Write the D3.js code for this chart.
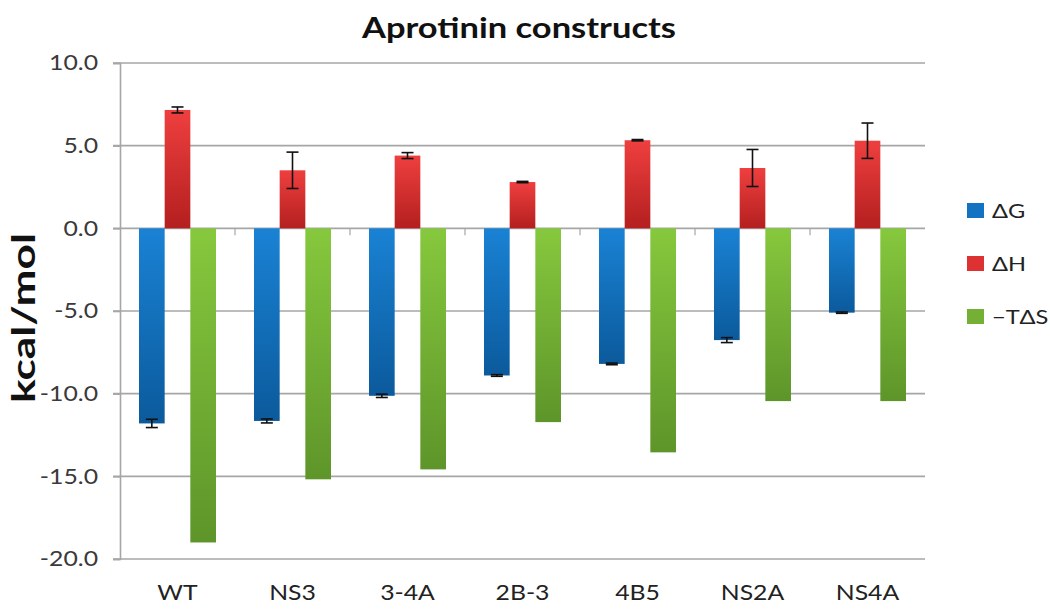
<!DOCTYPE html>
<html><head><meta charset="utf-8">
<script src="https://cdn.jsdelivr.net/npm/d3@7"></script>
<style>body{margin:0;background:#fff}svg{display:block}</style>
</head><body><svg id="c" width="1050" height="611"></svg>
<script>
const categories = ["WT","NS3","3-4A","2B-3","4B5","NS2A","NS4A"];
const seriesNames = ["ΔG","ΔH","−TΔS"];
const dG   = [-11.8,-11.65,-10.13,-8.9,-8.2,-6.76,-5.1];
const dGerr= [0.25,0.12,0.1,0.05,0.05,0.15,0.04];
const dH   = [7.16,3.51,4.4,2.8,5.33,3.65,5.3];
const dHerr= [0.18,1.1,0.18,0.04,0.04,1.12,1.07];
const mTdS = [-19.0,-15.18,-14.58,-11.72,-13.55,-10.45,-10.45];
const yTicks = [10,5,0,-5,-10,-15,-20];
const yTickLabels = ["10.0","5.0","0.0","-5.0","-10.0","-15.0","-20.0"];

(function(){
const FONT = "Lato, 'Open Sans', sans-serif";
const SX = 1.18;
const svg = d3.select("#c");
const pL=120, pR=925, pT=63, pB=559;
const x = d3.scaleBand().domain(categories).range([pL,pR]).padding(0);
const y = d3.scaleLinear().domain([-20,10]).range([pB,pT]);
const inner = d3.scaleBand().domain(seriesNames).range([19, x.bandwidth()-19]).padding(0);

const defs = svg.append("defs");
const grads = [["gB","#1a82d4","#0b5a9c"],["gR","#ef3f3f","#b41f1f"],["gG","#86c83d","#5e952a"]];
grads.forEach(([id,c1,c2])=>{
  const g=defs.append("linearGradient").attr("id",id).attr("x1",0).attr("y1",0).attr("x2",0).attr("y2",1);
  g.append("stop").attr("offset","0%").attr("stop-color",c1);
  g.append("stop").attr("offset","100%").attr("stop-color",c2);
});
const fills = {"ΔG":"url(#gB)","ΔH":"url(#gR)","−TΔS":"url(#gG)"};
const solid = {"ΔG":"#1273c2","ΔH":"#de3232","−TΔS":"#73b034"};

svg.append("g").selectAll("line").data(yTicks).join("line")
  .attr("x1",113).attr("x2",pR).attr("y1",d=>y(d)).attr("y2",d=>y(d))
  .attr("stroke","#a6a6a6").attr("stroke-width",1.6);

const yAxis = d3.axisLeft(y).tickValues(yTicks).tickFormat((d,i)=>yTickLabels[i]).tickSize(7).tickPadding(15);
const ga = svg.append("g").attr("transform",`translate(${pL},0)`).call(yAxis);
ga.select(".domain").attr("stroke","#a6a6a6").attr("stroke-width",1.6);
ga.selectAll(".tick line").attr("stroke","#a6a6a6").attr("stroke-width",1.6);
ga.selectAll("text").attr("font-family",FONT).attr("font-size",21).attr("fill","#3a3a3a")
  .attr("transform",`translate(-22,0) scale(${SX},1)`).attr("x",0);

svg.append("g").selectAll("line").data(categories.slice(1)).join("line")
  .attr("x1",d=>x(d)).attr("x2",d=>x(d)).attr("y1",y(0)).attr("y2",y(0)+7)
  .attr("stroke","#a6a6a6").attr("stroke-width",1.2);

const xAxis = d3.axisBottom(x).tickSize(0).tickPadding(0);
const gx = svg.append("g").attr("transform",`translate(0,600)`).call(xAxis);
gx.select(".domain").remove();
gx.selectAll("text").attr("font-family",FONT).attr("font-size",21).attr("fill","#222").attr("dy",0).attr("y",0)
  .attr("transform",`scale(${SX},1)`);

const rows = categories.map((c,i)=>({c, vals:[{s:"ΔG",v:dG[i],e:dGerr[i]},{s:"ΔH",v:dH[i],e:dHerr[i]},{s:"−TΔS",v:mTdS[i],e:null}]}));
const grp = svg.append("g").selectAll("g").data(rows).join("g").attr("transform",d=>`translate(${x(d.c)},0)`);
grp.selectAll("rect").data(d=>d.vals).join("rect")
  .attr("x",d=>inner(d.s)).attr("width",inner.bandwidth())
  .attr("y",d=>Math.min(y(d.v),y(0))).attr("height",d=>Math.abs(y(d.v)-y(0)))
  .attr("fill",d=>fills[d.s]);

const eb = grp.selectAll("g.err").data(d=>d.vals.filter(v=>v.e!=null)).join("g").attr("class","err");
eb.append("line").attr("x1",d=>inner(d.s)+inner.bandwidth()/2).attr("x2",d=>inner(d.s)+inner.bandwidth()/2)
  .attr("y1",d=>y(d.v+d.e)).attr("y2",d=>y(d.v-d.e)).attr("stroke","#111").attr("stroke-width",1.6);
[1,-1].forEach(sg=>{
  eb.append("line").attr("x1",d=>inner(d.s)+inner.bandwidth()/2-6).attr("x2",d=>inner(d.s)+inner.bandwidth()/2+6)
    .attr("y1",d=>y(d.v+sg*d.e)).attr("y2",d=>y(d.v+sg*d.e)).attr("stroke","#111").attr("stroke-width",1.6);
});

svg.append("text").attr("x",519).attr("y",38).attr("text-anchor","middle")
  .attr("font-family",FONT).attr("font-weight","bold").attr("font-size",28).attr("fill","#111")
  .attr("textLength",314).attr("lengthAdjust","spacingAndGlyphs")
  .text("Aprotinin constructs");
svg.append("text").attr("transform","translate(35,318) rotate(-90)").attr("text-anchor","middle")
  .attr("font-family",FONT).attr("font-weight","bold").attr("font-size",32).attr("fill","#111")
  .attr("textLength",170).attr("lengthAdjust","spacingAndGlyphs")
  .text("kcal/mol");

const lg = svg.append("g").selectAll("g").data(seriesNames).join("g")
  .attr("transform",(d,i)=>`translate(967,${203+i*53})`);
lg.append("rect").attr("width",17).attr("height",15).attr("fill",d=>solid[d]);
lg.append("text").attr("transform",`translate(25,15) scale(${SX},1)`)
  .attr("font-family",FONT).attr("font-size",20).attr("fill","#222").text(d=>d);
})();
</script></body></html>
